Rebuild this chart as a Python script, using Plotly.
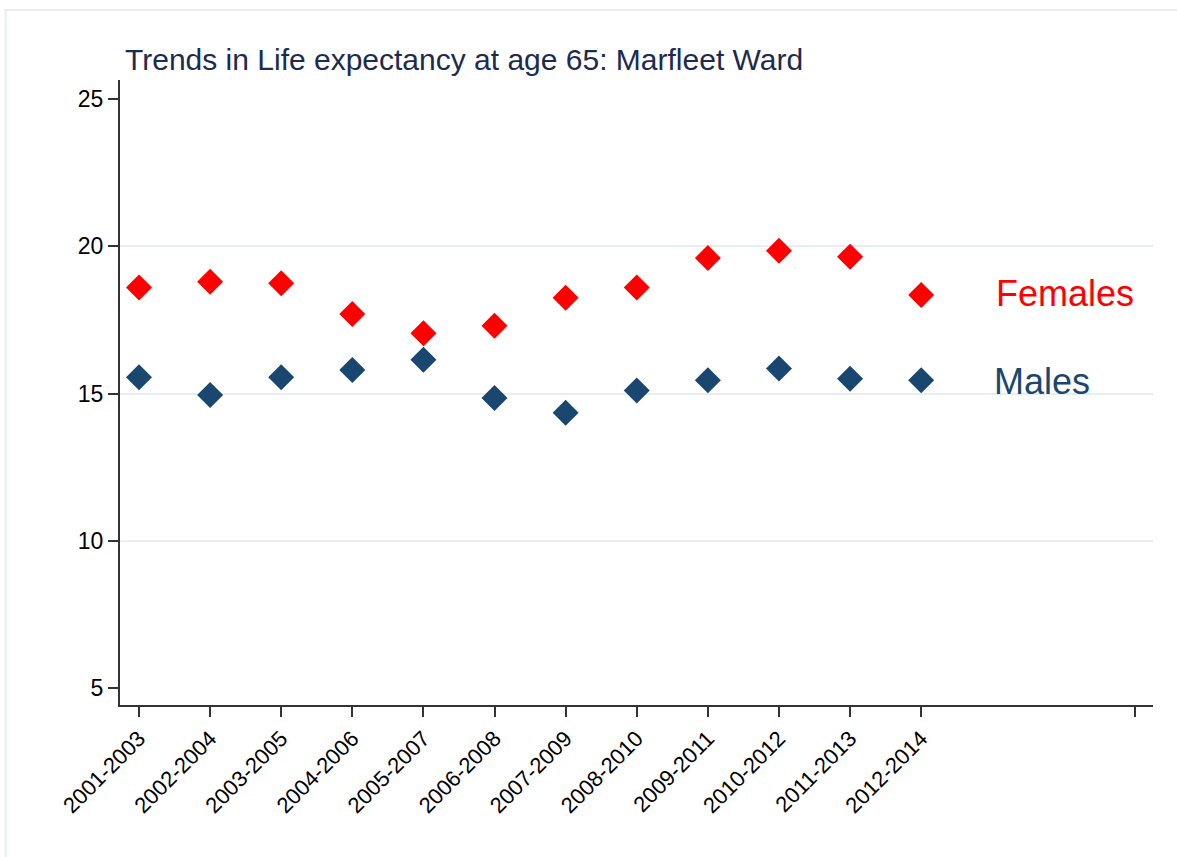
import plotly.graph_objects as go

periods = ["2001-2003", "2002-2004", "2003-2005", "2004-2006", "2005-2007", "2006-2008",
           "2007-2009", "2008-2010", "2009-2011", "2010-2012", "2011-2013", "2012-2014"]
females = [18.6, 18.8, 18.75, 17.7, 17.05, 17.3, 18.25, 18.6, 19.6, 19.85, 19.65, 18.35]
males = [15.55, 14.95, 15.55, 15.8, 16.15, 14.85, 14.35, 15.1, 15.45, 15.85, 15.5, 15.45]
y_ticks = [5, 10, 15, 20, 25]
grid_vals = [10, 15, 20]

RED = "#ff0000"
NAVY = "#1a476f"
FONT = "Liberation Sans, Arial, sans-serif"

x = list(range(len(periods)))
tickvals = x + [14]
ticktext = periods + [""]

fig = go.Figure()
fig.add_trace(go.Scatter(x=x, y=females, mode="markers", name="Females",
                         marker=dict(symbol="diamond", size=20, color=RED)))
fig.add_trace(go.Scatter(x=x, y=males, mode="markers", name="Males",
                         marker=dict(symbol="diamond", size=20, color=NAVY)))

fig.add_annotation(x=12.03, y=18.4, text="Females", showarrow=False, xanchor="left",
                   yanchor="middle", font=dict(size=36, color=RED, family=FONT))
fig.add_annotation(x=12.0, y=15.4, text="Males", showarrow=False, xanchor="left",
                   yanchor="middle", font=dict(size=36, color=NAVY, family=FONT))

fig.add_shape(type="rect", xref="paper", yref="paper", x0=-0.1108, x1=1.031, y0=-0.256, y1=1.112,
              line=dict(color="#e6eef1", width=2), fillcolor="rgba(0,0,0,0)", layer="below")

yr = [4.42, 25.65]
fig.update_layout(
    width=1177, height=857,
    margin=dict(l=120, r=24, t=80, b=152),
    paper_bgcolor="white", plot_bgcolor="white",
    showlegend=False,
    font=dict(family=FONT, color="black"),
    title=dict(text="Trends in Life expectancy at age 65: Marfleet Ward",
               x=125/1177, xanchor="left", xref="container",
               y=1-59/857, yanchor="middle", yref="container",
               font=dict(size=30, color="#1c2b4f", family=FONT)),
    xaxis=dict(range=[-0.267, 14.26], tickvals=tickvals, ticktext=ticktext, tickangle=-45,
               showgrid=False, zeroline=False, showline=True, linecolor="#333333", linewidth=2,
               ticks="outside", ticklen=10, tickcolor="#333333", tickwidth=1.5,
               tickfont=dict(size=22, color="black")),
    yaxis=dict(range=yr, tickvals=y_ticks, showgrid=False, zeroline=False,
               showline=True, linecolor="#333333", linewidth=2,
               ticks="outside", ticklen=10, tickcolor="#333333", tickwidth=1.5,
               tickfont=dict(size=23, color="black")),
    yaxis2=dict(range=yr, tickvals=grid_vals, overlaying="y", showgrid=True,
                gridcolor="#e6eef1", gridwidth=2, showticklabels=False, ticks="",
                zeroline=False, showline=False),
)
fig.add_trace(go.Scatter(x=[None], y=[None], yaxis="y2", showlegend=False, hoverinfo="skip"))

fig.write_html("out.html", config={"displayModeBar": False},
               post_script="document.body.style.margin='0';")
